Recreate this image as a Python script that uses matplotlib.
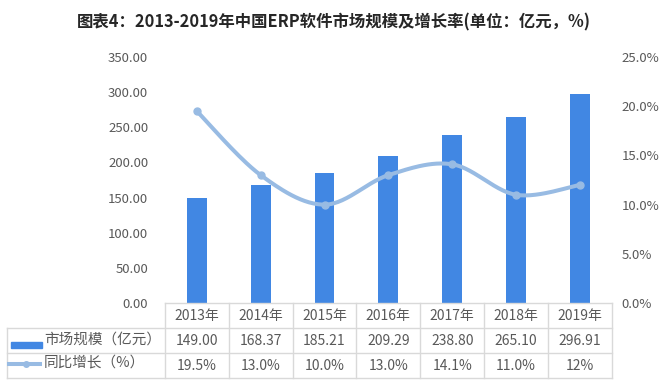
import numpy as np
import matplotlib.pyplot as plt
from matplotlib.lines import Line2D
from matplotlib.patches import Rectangle
import matplotlib.transforms as mtransforms

plt.rcParams['font.family'] = ['Noto Sans CJK SC', 'DejaVu Sans']

years = ['2013年', '2014年', '2015年', '2016年', '2017年', '2018年', '2019年']
market = [149.00, 168.37, 185.21, 209.29, 238.80, 265.10, 296.91]
growth = [19.5, 13.0, 10.0, 13.0, 14.1, 11.0, 12.0]
market_labels = ['149.00', '168.37', '185.21', '209.29', '238.80', '265.10', '296.91']
growth_labels = ['19.5%', '13.0%', '10.0%', '13.0%', '14.1%', '11.0%', '12%']
row_names = ['市场规模（亿元）', '同比增长（%）']

bar_color = '#4187e3'
line_color = '#98bbe3'
grid_color = '#d9d9d9'
text_color = '#595959'


def smooth(x, y, n=30):
    # catmull-rom style smoothing, like excel's smoothed line
    x = np.asarray(x, float)
    y = np.asarray(y, float)
    px = np.concatenate([[x[0]], x, [x[-1]]])
    py = np.concatenate([[y[0]], y, [y[-1]]])
    xs, ys = [], []
    for i in range(1, len(px) - 2):
        p0, p1, p2, p3 = (np.array([px[j], py[j]]) for j in (i - 1, i, i + 1, i + 2))
        c1 = p1 + (p2 - p0) / 6
        c2 = p2 - (p3 - p1) / 6
        t = np.linspace(0, 1, n)[:, None]
        b = (1 - t) ** 3 * p1 + 3 * (1 - t) ** 2 * t * c1 + 3 * (1 - t) * t ** 2 * c2 + t ** 3 * p2
        xs.extend(b[:, 0])
        ys.extend(b[:, 1])
    return np.array(xs), np.array(ys)


fig = plt.figure(figsize=(6.65, 3.88), dpi=100)
ax = fig.add_axes([0.248, 0.219, 0.672, 0.634])
x = np.arange(len(years))
ax.bar(x, market, width=0.31, color=bar_color, zorder=2)
ax.set_xlim(-0.5, len(years) - 0.5)
ax.set_ylim(0, 350)
ax.set_yticks(np.arange(0, 351, 50))
ax.set_yticklabels([f'{v:.2f}' for v in np.arange(0, 351, 50)])
ax.set_xticks([])
for s in ax.spines.values():
    s.set_visible(False)
ax.tick_params(axis='y', length=0, pad=12, labelsize=9.5, labelcolor=text_color)

ax2 = ax.twinx()
ax2.set_ylim(0, 25)
ax2.set_yticks(np.arange(0, 26, 5))
ax2.set_yticklabels([f'{v:.1f}%' for v in np.arange(0, 26, 5)])
for s in ax2.spines.values():
    s.set_visible(False)
ax2.tick_params(axis='y', length=0, pad=7, labelsize=9.5, labelcolor=text_color)
sx, sy = smooth(x, growth)
ax2.plot(sx, sy, color=line_color, lw=2.9, zorder=3, solid_capstyle='round')
ax2.plot(x, growth, 'o', color=line_color, ms=5, zorder=4)

# data table below the plot
tr = mtransforms.blended_transform_factory(ax.transData, ax.transAxes)
rh = 25 / 246.0
rows_y = [0, -rh, -2 * rh, -3 * rh]
x_left_tab = (7 - 165) / 447.0 * 7 - 0.5
kw = dict(color=grid_color, lw=1, clip_on=False, transform=tr)
ax.add_line(Line2D([-0.5, 6.5], [0, 0], **kw))
for yy in rows_y[1:]:
    ax.add_line(Line2D([x_left_tab, 6.5], [yy, yy], **kw))
for xx in np.arange(-0.5, 7.0, 1.0):
    ax.add_line(Line2D([xx, xx], [0, rows_y[-1]], **kw))
ax.add_line(Line2D([x_left_tab, x_left_tab], [rows_y[1], rows_y[-1]], **kw))

for i in range(len(years)):
    ax.text(i, -0.5 * rh, years[i], ha='center', va='center', fontsize=10, color=text_color, transform=tr)
    ax.text(i, -1.5 * rh, market_labels[i], ha='center', va='center', fontsize=10, color=text_color, transform=tr)
    ax.text(i, -2.5 * rh, growth_labels[i], ha='center', va='center', fontsize=10, color=text_color, transform=tr)

# row headers with legend keys, in figure pixels
fpx = lambda px, py: (px / 665.0, 1 - py / 388.0)
fig.patches.append(Rectangle(fpx(11, 348), 31 / 665.0, 6 / 388.0, color=bar_color, transform=fig.transFigure))
fig.lines.append(Line2D([9 / 665.0, 40 / 665.0], [1 - 363.5 / 388.0] * 2, color=line_color, lw=2.9,
                        transform=fig.transFigure))
fig.lines.append(Line2D([26 / 665.0], [1 - 363.5 / 388.0], marker='o', ms=4, color=line_color,
                        transform=fig.transFigure))
fig.text(*fpx(44, 339.5), row_names[0], ha='left', va='center', fontsize=10.5, color=text_color)
fig.text(*fpx(44, 363), row_names[1], ha='left', va='center', fontsize=10.5, color=text_color)

fig.text(0.502, 1 - 22 / 388.0, '图表4：2013-2019年中国ERP软件市场规模及增长率(单位：亿元，%)',
         ha='center', va='center', fontsize=11.8, fontweight='bold', color='#262626')

fig.savefig('out.png', dpi=100)
